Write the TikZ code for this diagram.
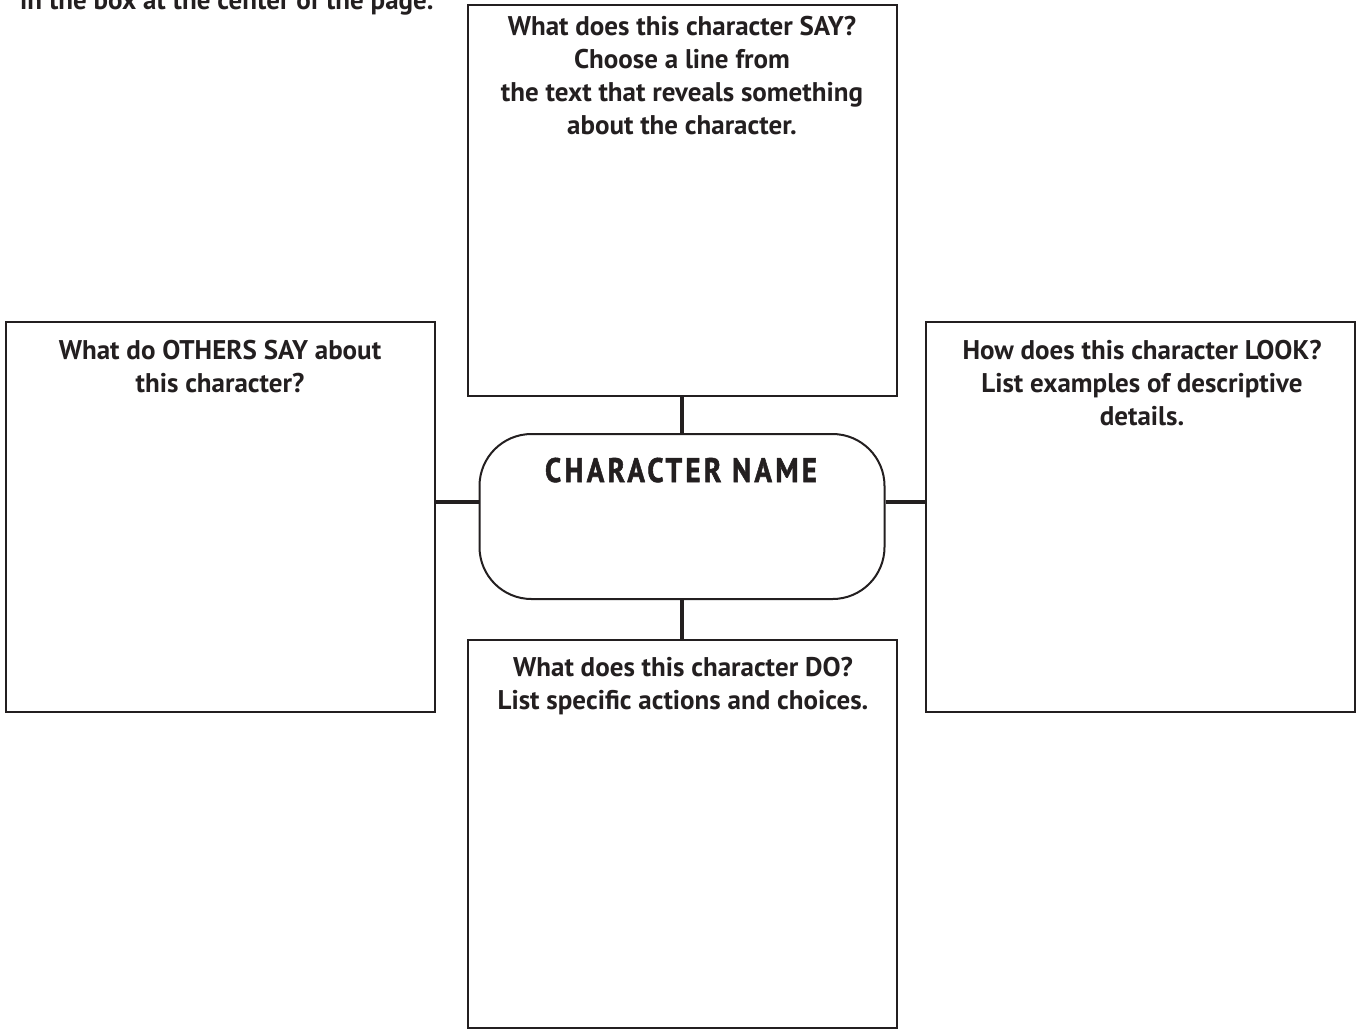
\documentclass[tikz,border=0pt]{standalone}
\usepackage{fontspec}
\setmainfont{PT Sans}
\newfontfamily\headfont{PT Sans}
\newfontfamily\namefont{PT Sans}[FakeStretch=0.85,LetterSpace=10,FakeBold=1.5]
\definecolor{ink}{HTML}{231F20}
\begin{document}
\begin{tikzpicture}[x=1pt,y=-1pt,
  panel/.style={draw=ink,line width=2pt,inner sep=0pt,fill=none},
  conn/.style={draw=ink,line width=4pt},
  prompt/.style={text=ink,font=\headfont\bfseries\fontsize{27}{33}\selectfont,align=center,inner sep=0pt,anchor=base},
]
\useasboundingbox (0,0) rectangle (1364,1029);
% boxes
\node[panel,minimum width=429pt,minimum height=391pt] (say) at (682,200.5) {};
\node[panel,minimum width=429pt,minimum height=390pt] (others) at (220.5,517) {};
\node[panel,minimum width=429pt,minimum height=390pt] (look) at (1140.5,517) {};
\node[panel,minimum width=429pt,minimum height=388pt] (do) at (682,834) {};
\node[panel,rounded corners=52pt,minimum width=405pt,minimum height=165pt] (name) at (682,516.5) {};
% connectors
\coordinate (hy) at (0,502);
\draw[conn] (say.south) -- (name.north);
\draw[conn] (name.south) -- (do.north);
\draw[conn] (others.east |- hy) -- (name.west |- hy);
\draw[conn] (name.east |- hy) -- (look.west |- hy);
% texts (base anchor = baseline of the last line)
\node[prompt,anchor=base west] (intro) at (20,9) {in the box at the center of the page.};
\node[prompt] (saytext) at (682,134) {What does this character SAY?\\Choose a line from\\the text that reveals something\\about the character.};
\node[prompt] (otherstext) at (220,392) {What do OTHERS SAY about\\this character?};
\node[prompt] (looktext) at (1142,425) {How does this character LOOK?\\List examples of descriptive\\details.};
\node[prompt] (dotext) at (683,709) {What does this character DO?\\List specific actions and choices.};
\node[text=ink,font=\namefont\bfseries\fontsize{34}{38}\selectfont,inner sep=0pt,anchor=base] (nametext) at (681,482) {CHARACTER NAME};
\end{tikzpicture}
\end{document}
